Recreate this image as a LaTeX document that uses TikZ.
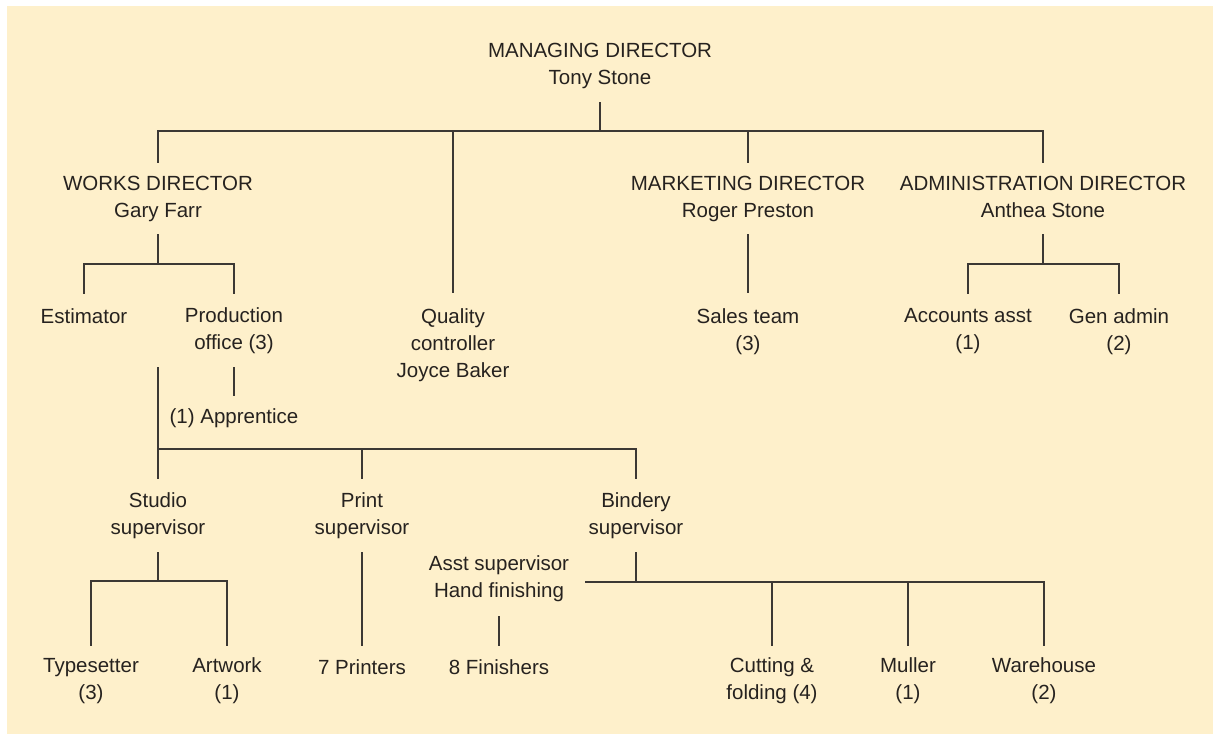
\documentclass[tikz,border=0pt]{standalone}
\usepackage{fontspec}
\setmainfont{Liberation Sans}
\definecolor{paper}{RGB}{254,240,203}
\definecolor{ink}{RGB}{38,34,31}
\definecolor{rule}{RGB}{60,56,52}
\begin{document}
\begin{tikzpicture}[x=1pt,y=-1pt,
  post/.style={align=center, inner xsep=8pt, inner ysep=0pt, text=ink,
    font=\fontsize{20.5}{27}\selectfont},
  link/.style={draw=rule, line width=1.5pt}]
  % page and tinted panel
  \fill[white] (0,0) rectangle (1213,734);
  \fill[paper] (7,6) rectangle (1213,734);
  \useasboundingbox (0,0) rectangle (1213,734);

  % horizontal bus levels
  \coordinate (busA) at (0,131);
  \coordinate (busW) at (0,264);
  \coordinate (busS) at (0,449);
  \coordinate (busT) at (0,581);
  \coordinate (busB) at (0,582);

  % top level
  \node[post, minimum height=72pt] (md) at (600,66) {MANAGING DIRECTOR\\Tony Stone};

  % directors
  \node[post, minimum height=71pt] (works) at (158,198.5) {WORKS DIRECTOR\\Gary Farr};
  \node[post, minimum height=104pt] (quality) at (453,345) {Quality\\controller\\Joyce Baker};
  \node[post, minimum height=71pt] (marketing) at (748,198.5) {MARKETING DIRECTOR\\Roger Preston};
  \node[post, minimum height=71pt] (admin) at (1043,198.5) {ADMINISTRATION DIRECTOR\\Anthea Stone\vphantom{y}};

  % works staff
  \node[post, minimum height=44pt] (estimator) at (84,316) {Estimator};
  \node[post, minimum height=73pt] (prod) at (234,330.5) {Production\\office (3)};
  \node[post, minimum height=44pt] (apprentice) at (234,418) {(1) Apprentice};

  % marketing and administration staff
  \node[post, minimum height=77pt] (sales) at (748,331.5) {Sales team\\(3)};
  \node[post, minimum height=75pt] (accounts) at (968,331.5) {Accounts asst\\(1)};
  \node[post, minimum height=75pt] (genadmin) at (1119,331.5) {Gen admin\\(2)};

  % supervisors
  \node[post, minimum height=73pt] (studio) at (158,515.5) {Studio\\supervisor};
  \node[post, minimum height=73pt] (print) at (362,515.5) {Print\\supervisor};
  \node[post, minimum height=73pt] (bindery) at (636,515.5) {Bindery\\supervisor};
  \node[post, minimum height=75pt, inner xsep=16pt] (asst) at (499,578.5) {Asst supervisor\\Hand finishing};

  % shop floor
  \node[post, minimum height=70pt] (typesetter) at (91,681) {Typesetter\\(3)};
  \node[post, minimum height=70pt] (artwork) at (227,681) {Artwork\\(1)};
  \node[post, minimum height=42pt] (printers) at (362,667) {7 Printers};
  \node[post, minimum height=42pt] (finishers) at (499,667) {8 Finishers};
  \node[post, minimum height=70pt] (cutting) at (772,681) {Cutting \&\\folding (4)};
  \node[post, minimum height=70pt] (muller) at (908,681) {Muller\\(1)};
  \node[post, minimum height=70pt] (warehouse) at (1044,681) {Warehouse\\(2)};

  % managing director to directors
  \draw[link] (md.south) -- (md.south |- busA);
  \draw[link] (works.north) |- (admin.north |- busA) -- (admin.north);
  \draw[link] (quality.north) -- (quality.north |- busA);
  \draw[link] (marketing.north) -- (marketing.north |- busA);

  % works director
  \draw[link] (works.south) -- (works.south |- busW);
  \draw[link] (estimator.north) |- (prod.north |- busW) -- (prod.north);
  \draw[link] (prod.south) -- (apprentice.north);
  \draw[link] (works.south |- prod.south) -- (studio.north);
  \draw[link] (studio.north |- busS) -| (bindery.north);
  \draw[link] (print.north) -- (print.north |- busS);

  % studio
  \draw[link] (studio.south) -- (studio.south |- busT);
  \draw[link] (typesetter.north) |- (artwork.north |- busT) -- (artwork.north);

  % print
  \draw[link] (print.south) -- (printers.north);

  % bindery
  \draw[link] (bindery.south) -- (bindery.south |- busB);
  \draw[link] (asst.east |- busB) -| (warehouse.north);
  \draw[link] (cutting.north) -- (cutting.north |- busB);
  \draw[link] (muller.north) -- (muller.north |- busB);
  \draw[link] (asst.south) -- (finishers.north);

  % marketing and administration
  \draw[link] (marketing.south) -- (sales.north);
  \draw[link] (admin.south) -- (admin.south |- busW);
  \draw[link] (accounts.north) |- (genadmin.north |- busW) -- (genadmin.north);
\end{tikzpicture}
\end{document}
